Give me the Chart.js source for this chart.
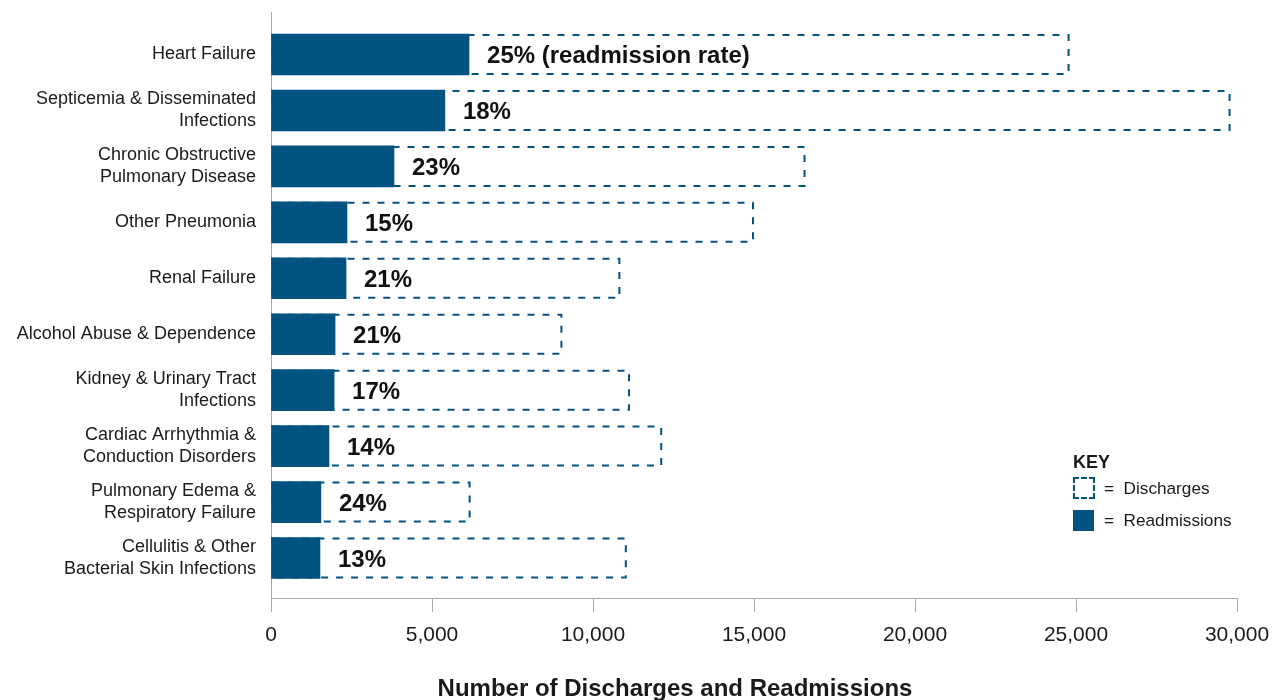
<!DOCTYPE html>
<html>
<head>
<meta charset="utf-8">
<script src="https://cdn.jsdelivr.net/npm/chart.js@4/dist/chart.umd.min.js"></script>
<style>
  body { margin: 0; background: #fff; }
  #wrap { position: relative; width: 1279px; height: 700px; }
  .key { position: absolute; font-family: 'Liberation Sans', Arial, sans-serif; color: #1a1a1a; }
  .keyTitle { left: 1073px; top: 452px; font-weight: bold; font-size: 18px; }
  .box { position: absolute; box-sizing: border-box; }
  .dash { left: 1073px; top: 477px; width: 22px; height: 22px; border: 2px dashed #02537f; }
  .solid { left: 1073px; top: 510px; width: 21px; height: 21px; background: #02537f; }
  .lab1 { left: 1104px; top: 477px; font-size: 17.2px; line-height: 22px; }
  .lab2 { left: 1104px; top: 509px; font-size: 17.2px; line-height: 22px; }
</style>
</head>
<body>
<div id="wrap">
  <canvas id="chart" width="1279" height="700"></canvas>
  <div class="key keyTitle">KEY</div>
  <div class="box dash"></div>
  <div class="box solid"></div>
  <div class="key lab1">=&nbsp;&nbsp;Discharges</div>
  <div class="key lab2">=&nbsp;&nbsp;Readmissions</div>
</div>
<script>
// data
const categories = [
    ['Heart Failure'],
    ['Septicemia & Disseminated', 'Infections'],
    ['Chronic Obstructive', 'Pulmonary Disease'],
    ['Other Pneumonia'],
    ['Renal Failure'],
    ['Alcohol Abuse & Dependence'],
    ['Kidney & Urinary Tract', 'Infections'],
    ['Cardiac Arrhythmia &', 'Conduction Disorders'],
    ['Pulmonary Edema &', 'Respiratory Failure'],
    ['Cellulitis & Other', 'Bacterial Skin Infections']
];
const discharges = [24800, 29800, 16600, 15000, 10850, 9050, 11150, 12150, 6200, 11050];
const readmissions = [6150, 5400, 3820, 2360, 2330, 1990, 1960, 1800, 1550, 1520];
const rateLabels = ['25% (readmission rate)', '18%', '23%', '15%', '21%', '21%', '17%', '14%', '24%', '13%'];
const xTitle = 'Number of Discharges and Readmissions';

var blue = '#02537f';
var textColor = '#1a1a1a';
var fontFamily = "'Liberation Sans', Arial, sans-serif";

// bars on a linear index axis so the padding above/below rows can be set
const dischargePts = discharges.map((v, i) => ({ x: v, y: i }));
const readmitPts = readmissions.map((v, i) => ({ x: v, y: i }));

// dashed outline for discharges, percent labels, axis title
const barExtras = {
    id: 'barExtras',
    beforeDatasetsDraw(chart) {
        const ctx = chart.ctx;
        const meta = chart.getDatasetMeta(0);
        ctx.save();
        ctx.strokeStyle = blue;
        ctx.lineWidth = 2;
        ctx.setLineDash([7, 8]);
        meta.data.forEach(el => {
            const top = el.y - el.height / 2;
            ctx.strokeRect(el.base + 1, top + 1, el.x - el.base - 2, el.height - 2);
        });
        ctx.restore();
    },
    afterDatasetsDraw(chart) {
        const ctx = chart.ctx;
        const meta = chart.getDatasetMeta(1);
        ctx.save();
        ctx.fillStyle = '#111';
        ctx.font = 'bold 24px ' + fontFamily;
        ctx.textAlign = 'left';
        ctx.textBaseline = 'middle';
        meta.data.forEach((el, i) => {
            ctx.fillText(rateLabels[i], el.x + 18, el.y + 2);
        });
        // x axis title, centred like the original (not on the plot area)
        ctx.fillStyle = textColor;
        ctx.font = 'bold 24px ' + fontFamily;
        ctx.textAlign = 'center';
        ctx.fillText(xTitle, 675, 689);
        ctx.restore();
    }
};

document.addEventListener('DOMContentLoaded', function () {
    const ctx = document.getElementById('chart').getContext('2d');
    new Chart(ctx, {
        type: 'bar',
        data: {
            datasets: [
                {
                    label: 'Discharges',
                    data: dischargePts,
                    backgroundColor: 'rgba(0,0,0,0)',
                    borderWidth: 0,
                    barThickness: 41,
                    grouped: false,
                },
                {
                    label: 'Readmissions',
                    data: readmitPts,
                    backgroundColor: blue,
                    borderWidth: 0,
                    barThickness: 41,
                    grouped: false,
                }
            ]
        },
        options: {
            indexAxis: 'y',
            responsive: false,
            animation: false,
            layout: { padding: { top: 12, right: 42, bottom: 0, left: 0 } },
            plugins: {
                legend: { display: false },
                tooltip: { enabled: false }
            },
            scales: {
                y: {
                    type: 'linear',
                    min: -0.76,
                    max: 9.715,
                    reverse: true,
                    offset: false,
                    afterFit: function (scale) {
                        scale.width = 271;
                        scale.paddingTop = 0;
                        scale.paddingBottom = 0;
                    },
                    grid: { display: false, drawTicks: false },
                    border: { display: true, color: '#aaaaaa', width: 1 },
                    ticks: {
                        stepSize: 1,
                        autoSkip: false,
                        padding: 15,
                        color: textColor,
                        font: { family: fontFamily, size: 18, lineHeight: 22 / 18 },
                        callback: function (value) {
                            return Number.isInteger(value) ? categories[value] : '';
                        }
                    }
                },
                x: {
                    min: 0,
                    max: 30000,
                    afterFit: function (scale) {
                        scale.height = 102;
                        scale.paddingLeft = 0;
                        scale.paddingRight = 0;
                    },
                    grid: { drawOnChartArea: false, drawTicks: true, tickLength: 14, color: '#aaaaaa' },
                    border: { display: true, color: '#aaaaaa', width: 1 },
                    ticks: {
                        stepSize: 5000,
                        padding: 11,
                        color: textColor,
                        font: { family: fontFamily, size: 21 },
                        callback: function (value) { return value.toLocaleString('en-US'); }
                    }
                }
            }
        },
        plugins: [barExtras]
    });
});
</script>
</body>
</html>
